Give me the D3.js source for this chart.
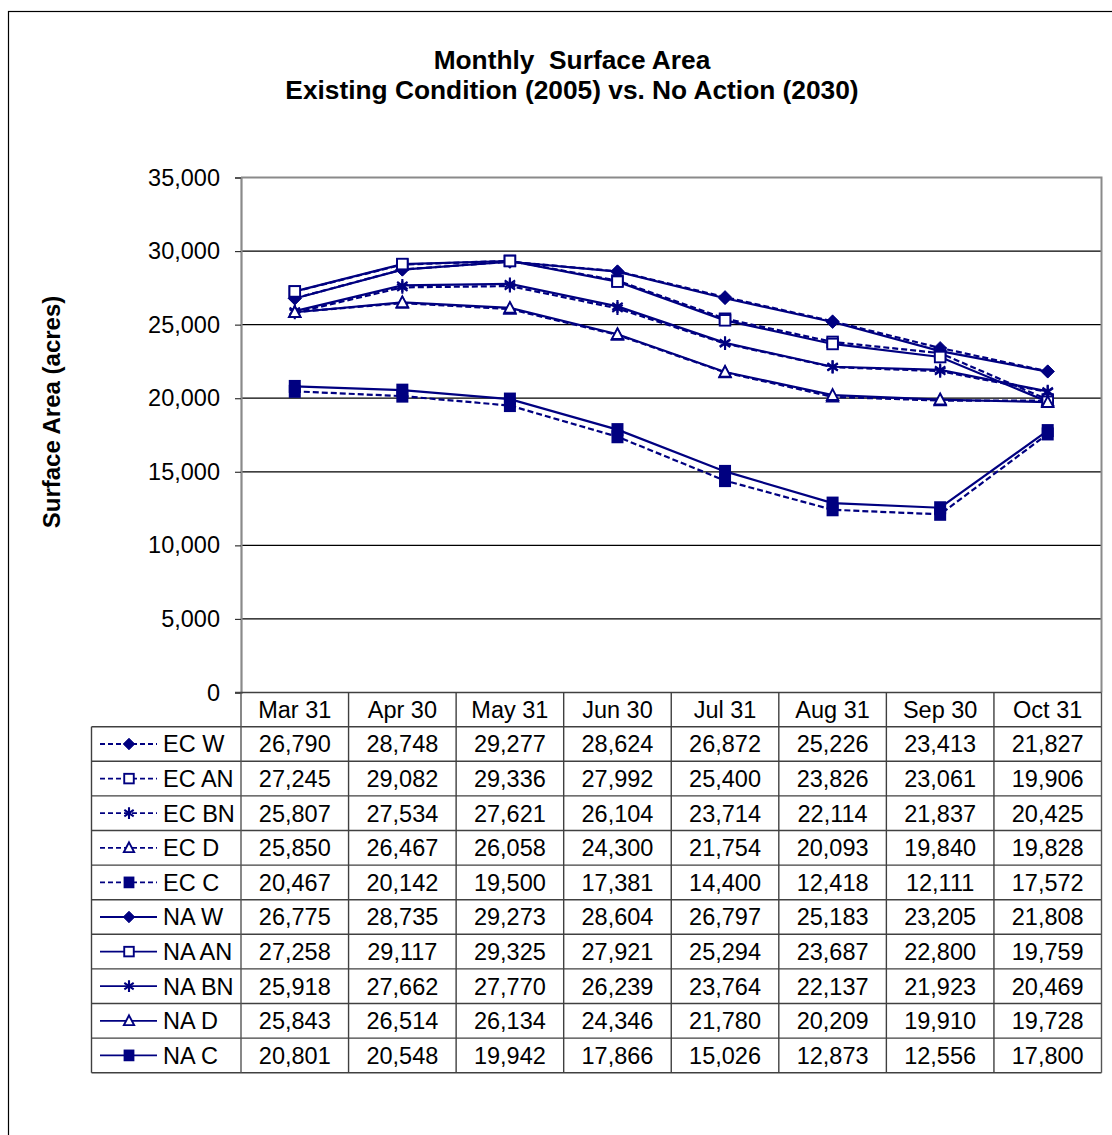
<!DOCTYPE html>
<html>
<head>
<meta charset="utf-8">
<script src="https://cdn.jsdelivr.net/npm/d3@7"></script>
<style>
  html, body { margin: 0; padding: 0; background: #fff; }
  svg { display: block; font-family: "Liberation Sans", Arial, sans-serif; }
</style>
</head>
<body>
<svg id="chart" width="1112" height="1135"></svg>
<script>
// Month-end dates on the category axis
const months = ["Mar 31", "Apr 30", "May 31", "Jun 30", "Jul 31", "Aug 31", "Sep 30", "Oct 31"];

// Existing Condition (2005), by water-year type
const ecW  = [26790, 28748, 29277, 28624, 26872, 25226, 23413, 21827];
const ecAN = [27245, 29082, 29336, 27992, 25400, 23826, 23061, 19906];
const ecBN = [25807, 27534, 27621, 26104, 23714, 22114, 21837, 20425];
const ecD  = [25850, 26467, 26058, 24300, 21754, 20093, 19840, 19828];
const ecC  = [20467, 20142, 19500, 17381, 14400, 12418, 12111, 17572];

// No Action (2030), by water-year type
const naW  = [26775, 28735, 29273, 28604, 26797, 25183, 23205, 21808];
const naAN = [27258, 29117, 29325, 27921, 25294, 23687, 22800, 19759];
const naBN = [25918, 27662, 27770, 26239, 23764, 22137, 21923, 20469];
const naD  = [25843, 26514, 26134, 24346, 21780, 20209, 19910, 19728];
const naC  = [20801, 20548, 19942, 17866, 15026, 12873, 12556, 17800];

const seriesNames = ["EC W", "EC AN", "EC BN", "EC D", "EC C", "NA W", "NA AN", "NA BN", "NA D", "NA C"];
const seriesValues = [ecW, ecAN, ecBN, ecD, ecC, naW, naAN, naBN, naD, naC];
const markerKinds = ["diamond", "openSquare", "star", "openTriangle", "square",
                     "diamond", "openSquare", "star", "openTriangle", "square"];

const yTicks = [0, 5000, 10000, 15000, 20000, 25000, 30000, 35000];

const titleLines = ["Monthly  Surface Area", "Existing Condition (2005) vs. No Action (2030)"];
const yTitle = "Surface Area (acres)";

// ---- layout ----
const NAVY = "#000080";
const plot = { left: 241, right: 1101.5, top: 177.5, bottom: 692.5 };
const table = { left: 91.5, headerBottom: 726.7, rowH: 34.6 };
const fmt = d3.format(",");

const svg = d3.select("#chart");

// outer chart frame (runs off the right and bottom edges)
svg.append("rect")
  .attr("x", 8.5).attr("y", 11.5)
  .attr("width", 1300).attr("height", 1300)
  .attr("fill", "#fff").attr("stroke", "#000").attr("stroke-width", 1.2);

const x = d3.scaleBand().domain(months).range([plot.left, plot.right]);
const y = d3.scaleLinear().domain([0, 35000]).range([plot.bottom, plot.top]);

// title
svg.append("text")
  .attr("x", 572).attr("text-anchor", "middle")
  .attr("font-size", 26.3).attr("font-weight", "bold")
  .selectAll("tspan").data(titleLines).join("tspan")
  .attr("x", 572).attr("y", (d, i) => 69 + i * 30)
  .style("white-space", "pre")
  .text(d => d);

// horizontal gridlines
svg.append("g").selectAll("line").data(yTicks.filter(t => t > 0 && t < 35000)).join("line")
  .attr("x1", plot.left).attr("x2", plot.right)
  .attr("y1", d => y(d)).attr("y2", d => y(d))
  .attr("stroke", "#000").attr("stroke-width", 1.2);

// plot-area border (top and right)
svg.append("path")
  .attr("d", `M${plot.left},${plot.top}H${plot.right}V${plot.bottom}`)
  .attr("fill", "none").attr("stroke", "#8a8a8a").attr("stroke-width", 2);

// y axis
const yAxis = svg.append("g")
  .attr("transform", `translate(${plot.left},0)`)
  .call(d3.axisLeft(y).tickValues(yTicks).tickFormat(fmt).tickSize(6).tickPadding(15));
yAxis.select(".domain").attr("stroke", "#8a8a8a").attr("stroke-width", 2.2);
yAxis.selectAll(".tick line").attr("stroke", "#333").attr("stroke-width", 1.2);
yAxis.selectAll(".tick text")
  .attr("font-size", 23.5).attr("fill", "#000")
  .attr("font-family", "Liberation Sans, Arial, sans-serif");

// y axis title
svg.append("text")
  .attr("transform", "translate(60,412) rotate(-90)")
  .attr("text-anchor", "middle")
  .attr("font-size", 24).attr("font-weight", "bold")
  .text(yTitle);

// ---- markers ----
function starPath(r) {
  const dx = r * 0.8, dy = r * 0.55;
  return `M0,${-r}V${r}M${-dx},${-dy}L${dx},${dy}M${-dx},${dy}L${dx},${-dy}`;
}
function drawMarker(g, kind, s) {
  if (kind === "diamond") {
    const r = 6.5 * s;
    g.append("path").attr("d", `M0,${-r}L${r},0L0,${r}L${-r},0Z`)
      .attr("fill", NAVY).attr("stroke", NAVY).attr("stroke-width", 0.8);
  } else if (kind === "openSquare") {
    g.append("rect").attr("x", -5.3 * s).attr("y", -5.3 * s).attr("width", 10.6 * s).attr("height", 10.6 * s)
      .attr("fill", "#fff").attr("stroke", NAVY).attr("stroke-width", 1.9);
  } else if (kind === "star") {
    g.append("path").attr("d", starPath(6.5 * s))
      .attr("fill", "none").attr("stroke", NAVY).attr("stroke-width", 2.1);
  } else if (kind === "openTriangle") {
    const r = 6 * s;
    g.append("path").attr("d", `M0,${-r}L${r * 0.95},${r * 0.8}L${-r * 0.95},${r * 0.8}Z`)
      .attr("fill", "#fff").attr("stroke", NAVY).attr("stroke-width", 1.9);
  } else if (kind === "square") {
    g.append("rect").attr("x", -6 * s).attr("y", -6.5 * s).attr("width", 12 * s).attr("height", 13 * s)
      .attr("fill", NAVY);
  }
}

// ---- series lines ----
const line = d3.line()
  .x((d, i) => x(months[i]) + x.bandwidth() / 2)
  .y(d => y(d));

const seriesG = svg.append("g");
seriesValues.forEach((vals, si) => {
  const dashed = seriesNames[si].startsWith("EC");
  seriesG.append("path")
    .attr("d", line(vals))
    .attr("fill", "none")
    .attr("stroke", NAVY)
    .attr("stroke-width", 2.2)
    .attr("stroke-dasharray", dashed ? "6,3" : null);
});
seriesValues.forEach((vals, si) => {
  vals.forEach((v, i) => {
    const g = seriesG.append("g")
      .attr("transform", `translate(${x(months[i]) + x.bandwidth() / 2},${y(v)})`);
    drawMarker(g, markerKinds[si], 1);
  });
});

// ---- data table ----
const tableBottom = table.headerBottom + seriesNames.length * table.rowH;
const tg = svg.append("g");
const gridStroke = "#404040";

// horizontal rules
const hRows = d3.range(seriesNames.length + 1).map(i => table.headerBottom + i * table.rowH);
tg.selectAll("line.h").data(hRows).join("line")
  .attr("x1", table.left).attr("x2", plot.right)
  .attr("y1", d => d).attr("y2", d => d)
  .attr("stroke", gridStroke).attr("stroke-width", 1.4);
// bottom of the category header (the zero line) is the x axis
tg.append("line")
  .attr("x1", plot.left - 6).attr("x2", plot.right)
  .attr("y1", plot.bottom).attr("y2", plot.bottom)
  .attr("stroke", gridStroke).attr("stroke-width", 1.4);
// vertical rules between categories
const colEdges = months.map(m => x(m)).concat([plot.right]);
tg.selectAll("line.v").data(colEdges).join("line")
  .attr("x1", d => d).attr("x2", d => d)
  .attr("y1", plot.bottom).attr("y2", tableBottom)
  .attr("stroke", (d, i) => (i === 0 || i === colEdges.length - 1) ? "#555" : gridStroke)
  .attr("stroke-width", 1.4);
tg.append("line")
  .attr("x1", table.left).attr("x2", table.left)
  .attr("y1", table.headerBottom).attr("y2", tableBottom)
  .attr("stroke", gridStroke).attr("stroke-width", 1.4);

// header labels
tg.selectAll("text.hdr").data(months).join("text")
  .attr("x", d => x(d) + x.bandwidth() / 2)
  .attr("y", (plot.bottom + table.headerBottom) / 2)
  .attr("dy", "0.36em")
  .attr("text-anchor", "middle")
  .attr("font-size", 23.5)
  .text(d => d);

// value cells and legend keys
seriesValues.forEach((vals, si) => {
  const cy = table.headerBottom + table.rowH * (si + 0.5);
  tg.selectAll(null).data(vals).join("text")
    .attr("x", (d, i) => x(months[i]) + x.bandwidth() / 2)
    .attr("y", cy).attr("dy", "0.36em")
    .attr("text-anchor", "middle")
    .attr("font-size", 23.5)
    .text(d => fmt(d));

  const dashed = seriesNames[si].startsWith("EC");
  tg.append("line")
    .attr("x1", 100).attr("x2", 157).attr("y1", cy).attr("y2", cy)
    .attr("stroke", NAVY).attr("stroke-width", 1.8)
    .attr("stroke-dasharray", dashed ? "5,3" : null);
  const kg = tg.append("g").attr("transform", `translate(129,${cy})`);
  drawMarker(kg, markerKinds[si], 0.9);
  tg.append("text")
    .attr("x", 163).attr("y", cy).attr("dy", "0.36em")
    .attr("font-size", 23.5)
    .text(seriesNames[si]);
});
</script>
</body>
</html>
